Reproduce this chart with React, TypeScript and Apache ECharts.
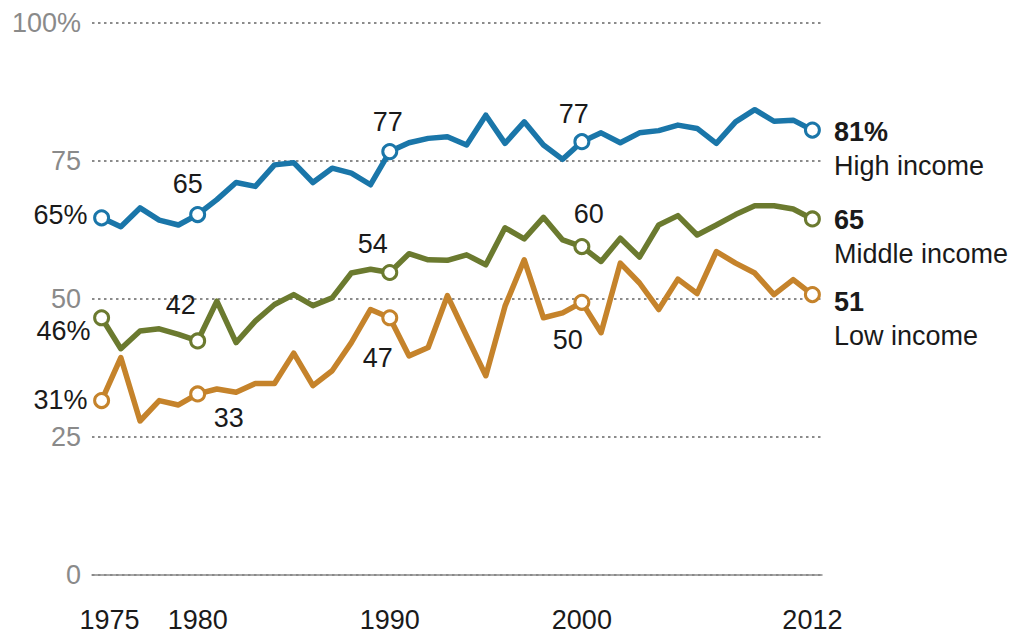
import React, { useEffect, useRef } from "react";
import * as echarts from "echarts";

const years = [
  1975, 1976, 1977, 1978, 1979, 1980, 1981, 1982, 1983, 1984, 1985, 1986, 1987,
  1988, 1989, 1990, 1991, 1992, 1993, 1994, 1995, 1996, 1997, 1998, 1999, 2000,
  2001, 2002, 2003, 2004, 2005, 2006, 2007, 2008, 2009, 2010, 2011, 2012,
];

const highIncome = [
  64.7, 63.1, 66.5, 64.3, 63.4, 65.3, 68.0, 71.1, 70.4, 74.3, 74.7, 71.1, 73.7,
  72.8, 70.7, 76.7, 78.3, 79.1, 79.4, 77.9, 83.3, 78.2, 82.1, 77.9, 75.3, 78.5,
  80.1, 78.3, 80.1, 80.5, 81.5, 80.9, 78.2, 82.1, 84.3, 82.2, 82.4, 80.6,
];

const middleIncome = [
  46.6, 41.0, 44.2, 44.6, 43.6, 42.4, 49.6, 42.1, 46.0, 49.0, 50.8, 48.8, 50.2,
  54.7, 55.4, 54.8, 58.2, 57.1, 57.0, 58.0, 56.2, 62.9, 60.9, 64.8, 60.7, 59.5,
  56.8, 61.0, 57.6, 63.4, 65.1, 61.6, 63.4, 65.3, 66.9, 66.9, 66.3, 64.5,
];

const lowIncome = [
  31.6, 39.4, 27.9, 31.6, 30.8, 32.8, 33.7, 33.1, 34.7, 34.7, 40.2, 34.3, 37.0,
  42.1, 48.1, 46.6, 39.7, 41.2, 50.6, 43.3, 36.1, 48.7, 57.1, 46.6, 47.5, 49.4,
  43.9, 56.5, 52.9, 48.1, 53.6, 51.0, 58.6, 56.5, 54.7, 50.8, 53.5, 50.8,
];

const markerYears = [1975, 1980, 1990, 2000, 2012];
const highLabels = ["65%", "65", "77", "77", "81%"];
const middleLabels = ["46%", "42", "54", "60", "65"];
const lowLabels = ["31%", "33", "47", "50", "51"];
const seriesNames = ["High income", "Middle income", "Low income"];
const xTickLabels = [1975, 1980, 1990, 2000, 2012];
const yTickValues = [0, 25, 50, 75, 100];

// label placement (style only)
const highOffsets = [[-41, -3], [-10, -31], [-2, -30], [-8, -28], [0, 19]];
const middleOffsets = [[-38, 13], [-17, -36], [-17, -29], [7, -33], [0, 18]];
const lowOffsets = [[-41, -1], [31, 24], [-12, 40], [-14, 38], [0, 24]];

const FONT = '"Liberation Sans", Arial, sans-serif';
const COLORS = ["#1a76a9", "#6b7a2f", "#c5832b"];

function markerData(values: number[], labels: string[], offsets: number[][], name: string) {
  return markerYears.map((yr, i) => {
    const idx = years.indexOf(yr);
    const last = i === markerYears.length - 1;
    const label = last
      ? {
          show: true,
          position: "right",
          distance: 13,
          offset: offsets[i],
          formatter: `{v|${labels[i]}}\n{n|${name}}`,
          rich: {
            v: { fontFamily: FONT, fontSize: 27, fontWeight: "bold", lineHeight: 34, color: "#1a1a1a" },
            n: { fontFamily: FONT, fontSize: 27, lineHeight: 34, color: "#1a1a1a" },
          },
        }
      : {
          show: true,
          position: "inside",
          offset: offsets[i],
          formatter: labels[i],
          color: "#1a1a1a",
          fontFamily: FONT,
          fontSize: 27,
          textBorderWidth: 0,
        };
    return { value: [yr, values[idx]], label };
  });
}

export default function App() {
  const ref = useRef<HTMLDivElement>(null);
  useEffect(() => {
    if (!ref.current) return;
    const chart = echarts.init(ref.current, null, { renderer: "svg" });
    const all = [highIncome, middleIncome, lowIncome];
    const labs = [highLabels, middleLabels, lowLabels];
    const offs = [highOffsets, middleOffsets, lowOffsets];
    const lineSeries = all.map((vals, k) => ({
      type: "line",
      name: seriesNames[k],
      data: years.map((y, i) => [y, vals[i]]),
      showSymbol: false,
      symbol: "none",
      z: 2,
      lineStyle: { color: COLORS[k], width: 5.5, cap: "round", join: "round" },
    }));
    const markerSeries = all.map((vals, k) => ({
      type: "scatter",
      name: seriesNames[k] + " markers",
      data: markerData(vals, labs[k], offs[k], seriesNames[k]),
      symbol: "circle",
      symbolSize: 14,
      z: 5,
      itemStyle: { color: "#ffffff", borderColor: COLORS[k], borderWidth: 3, opacity: 1 },
      emphasis: { disabled: true },
    }));
    chart.setOption({
      animation: false,
      backgroundColor: "#ffffff",
      grid: { left: 92, right: 195, top: 23, bottom: 57.5, containLabel: false },
      xAxis: {
        type: "value",
        min: 1974.5,
        max: 2012.5,
        splitLine: { show: false },
        axisTick: { show: false },
        axisLine: { show: true, lineStyle: { color: "#8a8a8a", width: 1.5 } },
        axisLabel: {
          customValues: xTickLabels,
          margin: 31,
          fontFamily: FONT,
          fontSize: 27,
          color: "#1a1a1a",
          formatter: (v: number) => (v === 1975 ? `{a|${v}}` : `${v}`),
          rich: { a: { fontFamily: FONT, fontSize: 27, color: "#1a1a1a", padding: [0, 0, 0, 16] } },
        },
      },
      yAxis: {
        type: "value",
        min: 0,
        max: 100,
        interval: 25,
        axisLine: { show: false },
        axisTick: { show: false },
        splitLine: { show: true, lineStyle: { color: "#666", width: 1.5, type: [2.5, 3.5] } },
        axisLabel: {
          customValues: yTickValues,
          margin: 11,
          fontFamily: FONT,
          fontSize: 27,
          color: "#8a8a8a",
          formatter: (v: number) => (v === 100 ? "100%" : `${v}`),
        },
      },
      series: [...lineSeries, ...markerSeries],
    });
    return () => chart.dispose();
  }, []);
  return (
    <div
      ref={ref}
      style={{ position: "fixed", left: 0, top: 0, width: 1017, height: 633, background: "#fff" }}
    />
  );
}
